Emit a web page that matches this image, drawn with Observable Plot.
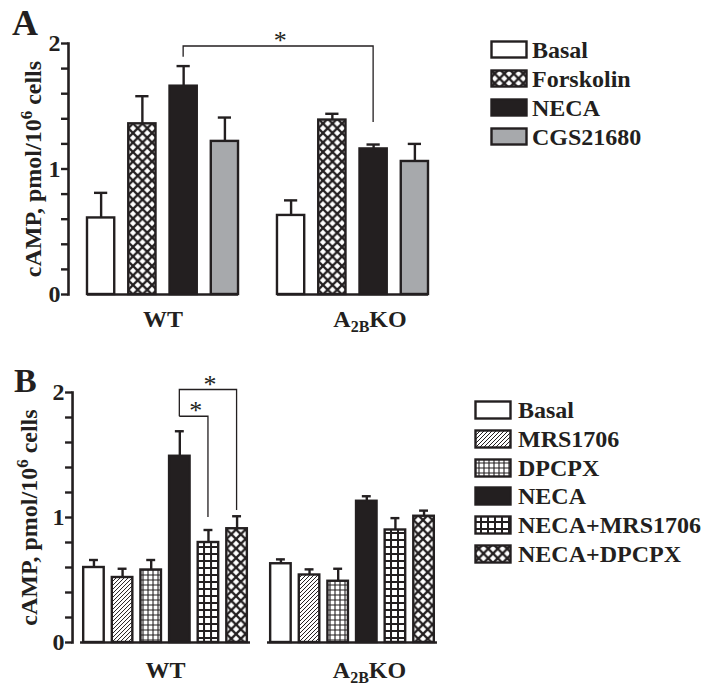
<!DOCTYPE html>
<html><head><meta charset="utf-8">
<script src="https://cdn.jsdelivr.net/npm/d3@7"></script>
<script src="https://cdn.jsdelivr.net/npm/@observablehq/plot@0.6"></script>
<style>
html,body{margin:0;padding:0;background:#fff;}
#root{position:relative;width:714px;height:693px;overflow:hidden;font-family:"Liberation Serif","Times New Roman",serif;color:#231f20;background:#fff;}
.chart{position:absolute;left:0;}
.legend{position:absolute;font-weight:bold;font-size:24px;line-height:1;}
.legend .row{display:flex;align-items:center;white-space:nowrap;}
.legend svg{display:block;flex:none;}
</style></head>
<body>
<div id="root">
<svg width="0" height="0" style="position:absolute;left:0;top:0">
<defs>
<pattern id="p-xhatch" width="9.5" height="9.5" patternUnits="userSpaceOnUse">
 <rect width="9.5" height="9.5" fill="#fff"/>
 <path d="M0,0L9.5,9.5M9.5,0L0,9.5" stroke="#231f20" stroke-width="2.3" fill="none"/>
</pattern>
<pattern id="p-diag" width="4" height="4" patternUnits="userSpaceOnUse">
 <rect width="4" height="4" fill="#fff"/>
 <path d="M-1,1L1,-1M0,4L4,0M3,5L5,3" stroke="#231f20" stroke-width="1" fill="none"/>
</pattern>
<pattern id="p-fgrid" width="5" height="5" patternUnits="userSpaceOnUse">
 <rect width="5" height="5" fill="#fff"/>
 <path d="M0,0V5M5,0V5M0,0H5M0,5H5" stroke="#231f20" stroke-width="1.1" fill="none"/>
</pattern>
<pattern id="p-cgrid" width="7" height="7" patternUnits="userSpaceOnUse">
 <rect width="7" height="7" fill="#fff"/>
 <path d="M0,0V7M7,0V7M0,0H7M0,7H7" stroke="#231f20" stroke-width="2" fill="none"/>
</pattern>
</defs></svg>
<svg width="714" height="693" style="position:absolute;left:0;top:0;pointer-events:none;z-index:2">
 <text x="12" y="35" font-family="Liberation Serif" font-weight="bold" font-size="36" fill="#231f20">A</text>
 <text x="14" y="392" font-family="Liberation Serif" font-weight="bold" font-size="34" fill="#231f20">B</text>
</svg>
<div id="chartA" class="chart" style="top:0"></div>
<div id="legendA" class="legend" style="left:490px;top:35px"></div>
<div id="chartB" class="chart" style="top:330px"></div>
<div id="legendB" class="legend" style="left:474px;top:396px"></div>
</div>
<script>
// ---------- data ----------
const groups = ["WT", "A2BKO"];

const treatmentsA = ["Basal", "Forskolin", "NECA", "CGS21680"];
const meanA_WT = [0.61, 1.36, 1.66, 1.22];
const errA_WT  = [0.20, 0.22, 0.16, 0.19];
const meanA_KO = [0.63, 1.39, 1.16, 1.06];
const errA_KO  = [0.12, 0.05, 0.035, 0.14];

const treatmentsB = ["Basal", "MRS1706", "DPCPX", "NECA", "NECA+MRS1706", "NECA+DPCPX"];
const meanB_WT = [0.60, 0.52, 0.58, 1.49, 0.80, 0.91];
const errB_WT  = [0.06, 0.07, 0.08, 0.20, 0.10, 0.10];
const meanB_KO = [0.63, 0.54, 0.49, 1.13, 0.90, 1.01];
const errB_KO  = [0.035, 0.045, 0.10, 0.04, 0.095, 0.045];

const yTicks = [0, 1, 2];
const yAllTicks = [0, 0.2, 0.4, 0.6, 0.8, 1, 1.2, 1.4, 1.6, 1.8, 2];
const yLabel = "cAMP, pmol/10^6 cells";

// significance brackets: from bar (g1,t1) to bar (g2,t2), y levels in data units
const bracketsA = [{g1: "WT", t1: "NECA", y1: 1.89, top: 1.976, g2: "A2BKO", t2: "NECA", y2: 1.37, label: "*"}];
const bracketsB = [
  {g1: "WT", t1: "NECA", y1: 1.806, top: 2.02, g2: "WT", t2: "NECA+DPCPX", y2: 1.056, label: "*"},
  {g1: "WT", t1: "NECA", y1: 1.806, top: 1.806, g2: "WT", t2: "NECA+MRS1706", y2: 1.0, label: "*"}
];

// ---------- styles ----------
const INK = "#231f20";
const fillsA = {"Basal": "#ffffff", "Forskolin": "url(#p-xhatch)", "NECA": INK, "CGS21680": "#a7a9ac"};
const fillsB = {"Basal": "#ffffff", "MRS1706": "url(#p-diag)", "DPCPX": "url(#p-fgrid)", "NECA": INK,
                "NECA+MRS1706": "url(#p-cgrid)", "NECA+DPCPX": "url(#p-xhatch)"};

function rowsOf(treatments, wtMean, wtErr, koMean, koErr) {
  const rows = [];
  treatments.forEach((t, i) => rows.push({group: "WT", treatment: t, mean: wtMean[i], err: wtErr[i]}));
  treatments.forEach((t, i) => rows.push({group: "A2BKO", treatment: t, mean: koMean[i], err: koErr[i]}));
  return rows;
}

function bracketMark(list) {
  return Plot.frame({
    facet: "super",
    render(index, scales, values, dims) {
      const fx = scales.fx, x = scales.x, y = scales.y;
      const bw = typeof x.bandwidth === "function" ? x.bandwidth() : x.bandwidth;
      const x0 = x.range()[0];
      const cx = (g, t) => fx(g) + (x(t) - x0) + bw / 2;
      const g = d3.create("svg:g");
      for (const b of list) {
        const x1 = cx(b.g1, b.t1), x2 = cx(b.g2, b.t2);
        g.append("path")
          .attr("d", `M${x1},${y(b.y1)}V${y(b.top)}H${x2}V${y(b.y2)}`)
          .attr("fill", "none").attr("stroke", INK).attr("stroke-width", 1.3);
        g.append("text")
          .attr("x", (x1 + x2) / 2 + 2).attr("y", y(b.top) + 3)
          .attr("text-anchor", "middle").attr("font-size", 26).attr("font-weight", "normal")
          .attr("fill", INK).text(b.label);
      }
      return g.node();
    }
  });
}

const NS = "http://www.w3.org/2000/svg";
function tspan(txt, attrs = {}) {
  const s = document.createElementNS(NS, "tspan");
  s.textContent = txt;
  for (const k in attrs) s.setAttribute(k, attrs[k]);
  return s;
}

function makeChart(o) {
  const svg = Plot.plot({
    width: o.width, height: o.height,
    marginLeft: o.marginLeft, marginRight: o.marginRight, marginTop: o.marginTop, marginBottom: o.marginBottom,
    style: {fontFamily: "'Liberation Serif', serif", fontSize: "24px", fontWeight: "bold", color: INK, background: "transparent", overflow: "visible"},
    fx: {domain: groups, paddingInner: o.fxPadIn, paddingOuter: o.fxPadOut, round: false, label: null},
    x: {domain: o.treatments, paddingInner: o.xPadIn, paddingOuter: o.xPadOut, round: false, axis: null},
    y: {domain: [0, 2]},
    color: {type: "identity"},
    marks: [
      Plot.ruleX(o.rows, {fx: "group", x: "treatment", y1: "mean", y2: d => d.mean + d.err, stroke: INK, strokeWidth: 2.4}),
      Plot.tickY(o.rows, {fx: "group", x: "treatment", y: d => d.mean + d.err, insetLeft: o.cap, insetRight: o.cap, stroke: INK, strokeWidth: 2.4}),
      Plot.barY(o.rows, {fx: "group", x: "treatment", y: "mean", fill: d => o.fills[d.treatment], stroke: INK, strokeWidth: 2.4}),
      Plot.ruleY([0], {stroke: INK, strokeWidth: 2.6}),
      Plot.axisY({ticks: yAllTicks, tickSize: 7, tickPadding: 1,
                  tickFormat: d => yTicks.includes(d) ? String(d) : "", fontSize: 24, dx: -o.axisShift,
                  label: yLabel, labelAnchor: "center", labelOffset: o.labelOffset, labelArrow: "none", strokeWidth: 2.4}),
      Plot.frame({anchor: "left", facetAnchor: "left", stroke: INK, strokeWidth: 2.6, dx: -o.axisShift}),
      Plot.axisFx({anchor: "bottom", tickSize: 0, tickPadding: o.fxPad, fontSize: 24, label: null}),
      bracketMark(o.brackets)
    ]
  });
  // superscript in y label, subscript in A2BKO
  for (const t of svg.querySelectorAll("text")) {
    const s = t.textContent;
    if (s.includes("cAMP")) {
      const [a, rest] = yLabel.split("^");
      t.textContent = "";
      t.appendChild(tspan(a));
      t.appendChild(tspan(rest.slice(0, 1), {dy: "-9", "font-size": "17"}));
      t.appendChild(tspan(rest.slice(1), {dy: "9"}));
    } else if (s === "A2BKO") {
      t.textContent = "";
      t.appendChild(tspan("A"));
      t.appendChild(tspan("2B", {dy: "5", "font-size": "16"}));
      t.appendChild(tspan("KO", {dy: "-5"}));
      t.setAttribute("transform", (t.getAttribute("transform") || "") + " translate(17,0)");
    }
  }
  return svg;
}

function makeLegend(el, items, fills, sw, sh, rowH, gap) {
  for (const t of items) {
    const row = document.createElement("div");
    row.className = "row";
    row.style.height = rowH + "px";
    row.innerHTML = `<svg width="${sw + 3}" height="${sh + 3}"><rect x="1.5" y="1.5" width="${sw}" height="${sh}" fill="${fills[t]}" stroke="${INK}" stroke-width="2.4"/></svg><span style="margin-left:${gap}px">${t}</span>`;
    el.appendChild(row);
  }
}

document.getElementById("chartA").appendChild(makeChart({
  rows: rowsOf(treatmentsA, meanA_WT, errA_WT, meanA_KO, errA_KO),
  treatments: treatmentsA, fills: fillsA, brackets: bracketsA,
  width: 470, height: 330, marginLeft: 68, marginRight: 23, marginTop: 43, marginBottom: 36,
  fxPadIn: 0.205, fxPadOut: 0.1, xPadIn: 0.34, xPadOut: 0, cap: 7, labelOffset: 64, fxPad: 15, axisShift: 19
}));
document.getElementById("chartB").appendChild(makeChart({
  rows: rowsOf(treatmentsB, meanB_WT, errB_WT, meanB_KO, errB_KO),
  treatments: treatmentsB, fills: fillsB, brackets: bracketsB,
  width: 470, height: 363, marginLeft: 72, marginRight: 25, marginTop: 62, marginBottom: 51,
  fxPadIn: 0.091, fxPadOut: 0.043, xPadIn: 0.283, xPadOut: 0.11, cap: 5.8, labelOffset: 61, fxPad: 18, axisShift: 8
}));

makeLegend(document.getElementById("legendA"), treatmentsA, fillsA, 35, 16, 29, 4);
makeLegend(document.getElementById("legendB"), treatmentsB, fillsB, 35, 17, 28.7, 6);
</script>
</body></html>
